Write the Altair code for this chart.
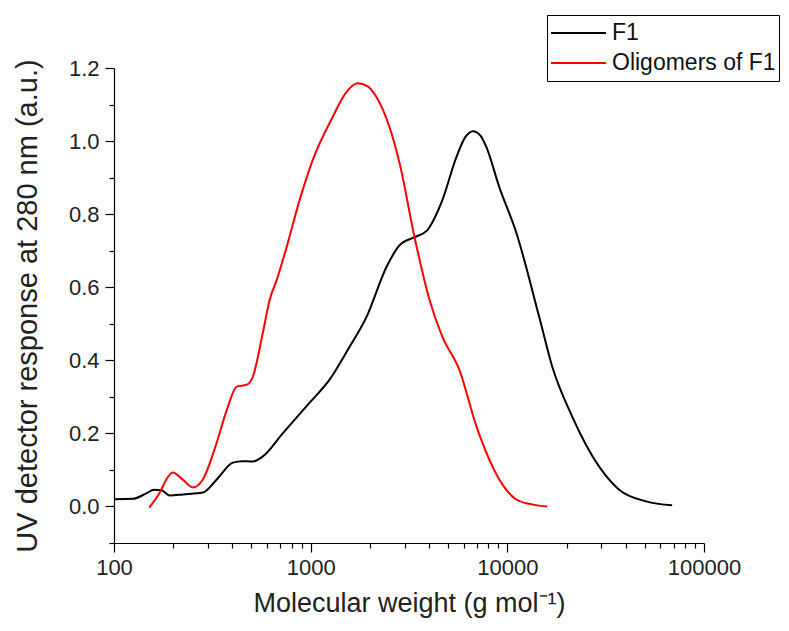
import altair as alt
import pandas as pd

# F1 curve (molecular weight, UV response)
f1_mw = [100, 125, 145, 160, 175, 192, 224, 283, 333, 402, 450, 508, 571, 721, 988,
         1248, 1577, 1924, 2432, 2831, 3374, 3900, 4160, 4677, 5508, 6100, 6700, 7300,
         7818, 9102, 11110, 14520, 16910, 21370, 29300, 37030, 50790, 68850]
f1_uv = [0.02, 0.021, 0.035, 0.046, 0.044, 0.03, 0.033, 0.038, 0.074, 0.12, 0.124, 0.123,
         0.137, 0.2, 0.284, 0.347, 0.437, 0.519, 0.656, 0.715, 0.737, 0.755, 0.778, 0.839,
         0.956, 1.01, 1.027, 1.015, 0.984, 0.874, 0.749, 0.519, 0.383, 0.246, 0.109,
         0.046, 0.014, 0.003]

# Oligomers of F1
ol_mw = [151, 171, 185, 199, 225, 252, 283, 333, 375, 421, 473, 508, 571, 619, 672, 755,
         879, 1024, 1294, 1500, 1733, 1950, 2163, 2518, 2831, 3374, 4018, 4677, 5705,
         6966, 9102, 11110, 13500, 15960]
ol_uv = [-0.003, 0.038, 0.075, 0.093, 0.072, 0.052, 0.074, 0.175, 0.265, 0.328, 0.333,
         0.355, 0.475, 0.566, 0.62, 0.71, 0.839, 0.948, 1.066, 1.13, 1.158, 1.15, 1.12,
         1.038, 0.94, 0.737, 0.566, 0.464, 0.374, 0.219, 0.074, 0.019, 0.005, 0.0]

series_names = ["F1", "Oligomers of F1"]
series_colors = ["#000000", "#ff0000"]

x_ticks = [100, 200, 300, 400, 500, 600, 700, 800, 900,
           1000, 2000, 3000, 4000, 5000, 6000, 7000, 8000, 9000,
           10000, 20000, 30000, 40000, 50000, 60000, 70000, 80000, 90000, 100000]
y_ticks = [round(-0.1 + 0.1 * i, 1) for i in range(14)]

rows = []
for i, (m, u) in enumerate(zip(f1_mw, f1_uv)):
    rows.append({"mw": m, "uv": u, "series": series_names[0], "order": i})
for i, (m, u) in enumerate(zip(ol_mw, ol_uv)):
    rows.append({"mw": m, "uv": u, "series": series_names[1], "order": i})
df = pd.DataFrame(rows)

FONT = "Liberation Sans"
major_x = "indexof([100,1000,10000,100000], datum.value) >= 0"
major_y = "abs(round(datum.value*10)) % 2 == 0"

chart = alt.Chart(df).mark_line(strokeWidth=2, interpolate="monotone").encode(
    x=alt.X("mw:Q",
            scale=alt.Scale(type="log", domain=[100, 100000], nice=False),
            axis=alt.Axis(values=x_ticks, title="Molecular weight (g mol⁻¹)",
                          labelExpr=f"{major_x} ? format(datum.value, 'd') : ''",
                          tickSize={"condition": {"test": major_x, "value": 9}, "value": 5},
                          labelFlush=False, labelOverlap=False, grid=False,
                          labelPadding=5, titlePadding=12,
                          labelFontSize=22, titleFontSize=27)),
    y=alt.Y("uv:Q",
            scale=alt.Scale(domain=[-0.1, 1.2], nice=False, zero=False),
            axis=alt.Axis(values=y_ticks, title="UV detector response at 280 nm (a.u.)",
                          labelExpr=f"{major_y} && datum.value > -0.05 ? format(datum.value, '.1f') : ''",
                          tickSize={"condition": {"test": major_y, "value": 9}, "value": 5},
                          labelFlush=False, labelOverlap=False, grid=False,
                          labelPadding=6, titlePadding=26,
                          labelFontSize=22, titleFontSize=29)),
    color=alt.Color("series:N",
                    scale=alt.Scale(domain=series_names, range=series_colors),
                    legend=alt.Legend(title=None, orient="none", legendX=433, legendY=-53,
                                      symbolType="stroke", symbolSize=3025,
                                      symbolStrokeWidth=2, labelFontSize=23,
                                      labelOffset=5, clipHeight=30, rowPadding=0,
                                      padding=3, strokeColor="#000000",
                                      fillColor="#ffffff", labelFont=FONT,
                                      labelLimit=400, labelColor="#111111")),
    order="order:Q",
).properties(
    width=590, height=475,
    autosize=alt.AutoSizeParams(type="none"),
    padding={"left": 106, "top": 60, "right": 77, "bottom": 80},
).configure_view(stroke=None).configure_axis(
    labelFont=FONT, titleFont=FONT, titleFontWeight="normal",
    labelColor="#222222", titleColor="#222222",
    domainColor="#000000", tickColor="#000000", domainWidth=1.2, tickWidth=1.2,
)

chart.save("out.html", embed_options={"renderer": "svg", "actions": False})
